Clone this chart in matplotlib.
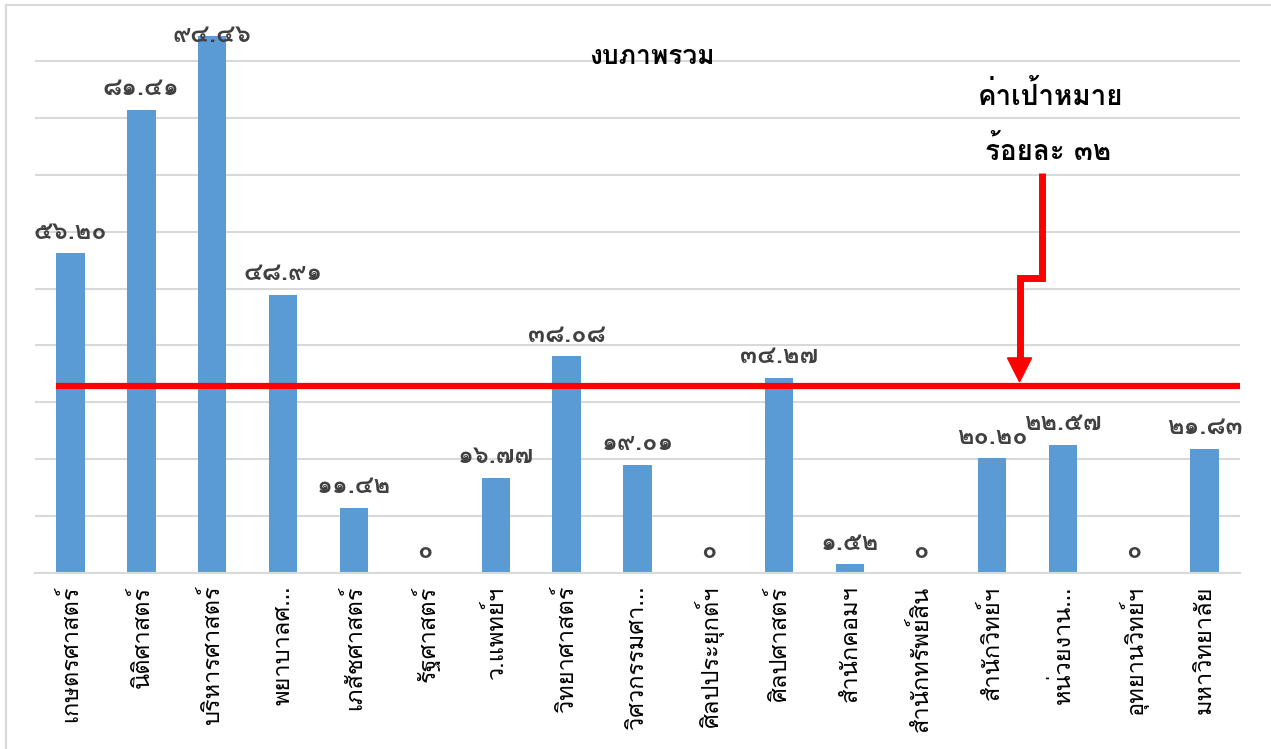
import matplotlib
matplotlib.use("Agg")
import matplotlib.pyplot as plt
from matplotlib.patches import Polygon

THAI = ["Loma", "DejaVu Sans"]
plt.rcParams["font.family"] = THAI

categories = [
    "เกษตรศาสตร์", "นิติศาสตร์", "บริหารศาสตร์", "พยาบาลศ…", "เภสัชศาสตร์",
    "รัฐศาสตร์", "ว.แพทย์ฯ", "วิทยาศาสตร์", "วิศวกรรมศา…", "ศิลปประยุกต์ฯ",
    "ศิลปศาสตร์", "สำนักคอมฯ", "สำนักทรัพย์สิน", "สำนักวิทย์ฯ", "หน่วยงาน…",
    "อุทยานวิทย์ฯ", "มหาวิทยาลัย",
]
values = [56.20, 81.41, 94.46, 48.91, 11.42, 0, 16.77, 38.08, 19.01, 0,
          34.27, 1.52, 0, 20.20, 22.57, 0, 21.83]
value_labels = ["๕๖.๒๐", "๘๑.๔๑", "๙๔.๔๖", "๔๘.๙๑", "๑๑.๔๒", "๐", "๑๖.๗๗",
                "๓๘.๐๘", "๑๙.๐๑", "๐", "๓๔.๒๗", "๑.๕๒", "๐", "๒๐.๒๐",
                "๒๒.๕๗", "๐", "๒๑.๘๓"]
target_line = 32.9  # drawn position of the target line
title = "งบภาพรวม"
target_text = ["ค่าเป้าหมาย", "ร้อยละ ๓๒"]

fig = plt.figure(figsize=(12.71, 7.49), dpi=100)
ax = fig.add_axes([35 / 1271, 1 - 573 / 749, 1205 / 1271, 569 / 749])

x = range(len(categories))
ax.bar(x, values, width=0.4, color="#5B9BD5", zorder=2)
for i, (v, lab) in enumerate(zip(values, value_labels)):
    # labels sit above the bar, but are kept inside the plot area
    ax.text(i, min(v + 3.7, 94.4), lab, ha="center", va="center",
            fontsize=18, fontweight="bold", color="#404040", zorder=4)

ax.set_xlim(-0.5, len(categories) - 0.5)
ax.set_ylim(0, 100)
ax.set_yticks(range(0, 101, 10))
ax.set_yticklabels([])
ax.tick_params(axis="y", length=0)
ax.tick_params(axis="x", length=0, pad=9)
ax.set_xticks(list(x))
ax.set_xticklabels(categories, rotation=90, fontsize=17, va="top", ha="center")
ax.grid(axis="y", color="#D9D9D9", lw=1.5, zorder=0)
for s in ["left", "right", "top"]:
    ax.spines[s].set_visible(False)
ax.spines["bottom"].set_color("#D9D9D9")
ax.spines["bottom"].set_linewidth(1.5)

# target line, starting slightly in from the left
ax.plot([-0.2, len(categories) - 0.5], [target_line, target_line],
        color="#FF0000", lw=4.5, solid_capstyle="butt", zorder=3)

# stepped arrow pointing at the target line
ax.plot([13.70, 13.70, 13.39, 13.39], [70.3, 51.8, 51.8, 37.6],
        color="#FF0000", lw=5, solid_joinstyle="miter", solid_capstyle="butt", zorder=3)
ax.add_patch(Polygon([[13.22, 37.8], [13.56, 37.8], [13.39, 33.6]],
                     closed=True, color="#FF0000", zorder=3))

fig.text(652 / 1271, 1 - 57 / 749, title, ha="center", va="center",
         fontsize=19, fontweight="bold")
fig.text(1050 / 1271, 1 - 95 / 749, target_text[0], ha="center", va="center",
         fontsize=20, fontweight="bold")
fig.text(1048 / 1271, 1 - 150 / 749, target_text[1], ha="center", va="center",
         fontsize=20, fontweight="bold")

# light frame on the top and left edges
fig.add_artist(plt.Line2D([6 / 1271, 6 / 1271], [0, 1 - 5 / 749],
                          color="#D9D9D9", lw=1.5))
fig.add_artist(plt.Line2D([6 / 1271, 1], [1 - 5 / 749, 1 - 5 / 749],
                          color="#D9D9D9", lw=1.5))

fig.savefig("out.png", dpi=100)
